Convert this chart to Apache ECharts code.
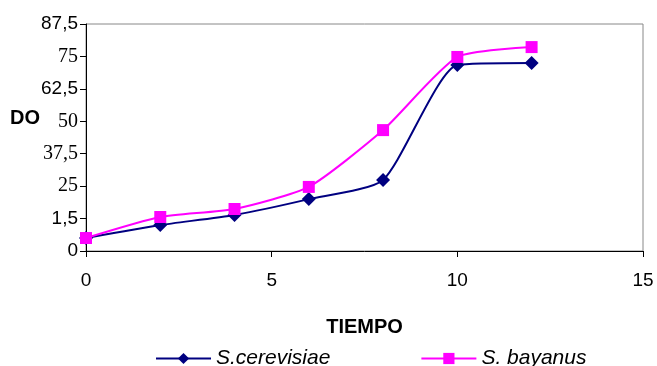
<!DOCTYPE html>
<html>
<head>
<meta charset="utf-8">
<script src="https://cdn.jsdelivr.net/npm/echarts@6/dist/echarts.min.js"></script>
<style>
  html, body { margin: 0; padding: 0; background: #fff; }
  #chart { width: 657px; height: 366px; }
</style>
</head>
<body>
<div id="chart"></div>
<script>
// datos
var tiempo = [0, 2, 4, 6, 8, 10, 12];
var cerevisiae = [5.0, 10.0, 13.9, 20.0, 27.4, 71.7, 72.5];
var bayanus = [5.0, 13.1, 16.2, 24.7, 46.6, 74.8, 78.6];
// etiquetas del eje Y tal como aparecen (incluido el "1,5")
var yTicks = [0, 12.5, 25, 37.5, 50, 62.5, 75, 87.5];
var yLabels = ["0", "1,5", "25", "37,5", "50", "62,5", "75", "87,5"];
var yLabelSerif = [false, false, true, true, true, false, true, false];

function pairs(xs, ys) {
  return xs.map(function (x, i) { return [x, ys[i]]; });
}

var chart = echarts.init(document.getElementById("chart"));
var option = {
  backgroundColor: "#fff",
  animation: false,
  grid: {
    left: 86, right: 14, top: 24, bottom: 115,
    show: true, borderColor: "#888", borderWidth: 1
  },
  graphic: [{
    type: "text", left: 10, top: 108,
    style: { text: "DO", font: "bold 20px Arial, 'Liberation Sans'", fill: "#000" }
  }],
  legend: {
    left: 155, top: 348, padding: 0,
    itemWidth: 55, itemHeight: 14, itemGap: 90,
    textStyle: { fontFamily: "Arial, 'Liberation Sans'", fontStyle: "italic", fontSize: 21, color: "#000" },
    data: ["S.cerevisiae", "S. bayanus"]
  },
  xAxis: {
    type: "value", min: 0, max: 15, interval: 5,
    name: "TIEMPO", nameLocation: "middle", nameGap: 66,
    nameTextStyle: { fontFamily: "Arial, 'Liberation Sans'", fontWeight: "bold", fontSize: 20, color: "#000" },
    axisLine: { show: true, lineStyle: { color: "#000", width: 1 } },
    axisTick: { show: true, length: 6, lineStyle: { color: "#000" } },
    axisLabel: { margin: 20, fontFamily: "Arial, 'Liberation Sans'", fontSize: 19, color: "#000" },
    splitLine: { show: false }
  },
  yAxis: {
    type: "value", min: 0, max: 87.5, interval: 12.5,
    axisLine: { show: true, lineStyle: { color: "#000", width: 1 } },
    axisTick: { show: true, length: 6, lineStyle: { color: "#000" } },
    axisLabel: {
      margin: 8, color: "#000",
      formatter: function (v) {
        var i = yTicks.indexOf(v);
        if (i < 0) return "";
        return "{" + (yLabelSerif[i] ? "s" : "a") + "|" + yLabels[i] + "}";
      },
      rich: {
        a: { fontFamily: "Arial, 'Liberation Sans'", fontSize: 19, color: "#000" },
        s: { fontFamily: "'Times New Roman', 'Liberation Serif'", fontSize: 20, color: "#000" }
      }
    },
    splitLine: { show: false }
  },
  series: [
    {
      name: "S.cerevisiae", type: "line", smooth: 0.2,
      data: pairs(tiempo, cerevisiae),
      symbol: "diamond", symbolSize: 14,
      lineStyle: { color: "#000080", width: 2 },
      itemStyle: { color: "#000080" }
    },
    {
      name: "S. bayanus", type: "line", smooth: 0.2,
      data: pairs(tiempo, bayanus),
      symbol: "rect", symbolSize: 12,
      lineStyle: { color: "#ff00ff", width: 2 },
      itemStyle: { color: "#ff00ff" }
    }
  ]
};
chart.setOption(option);
</script>
</body>
</html>
